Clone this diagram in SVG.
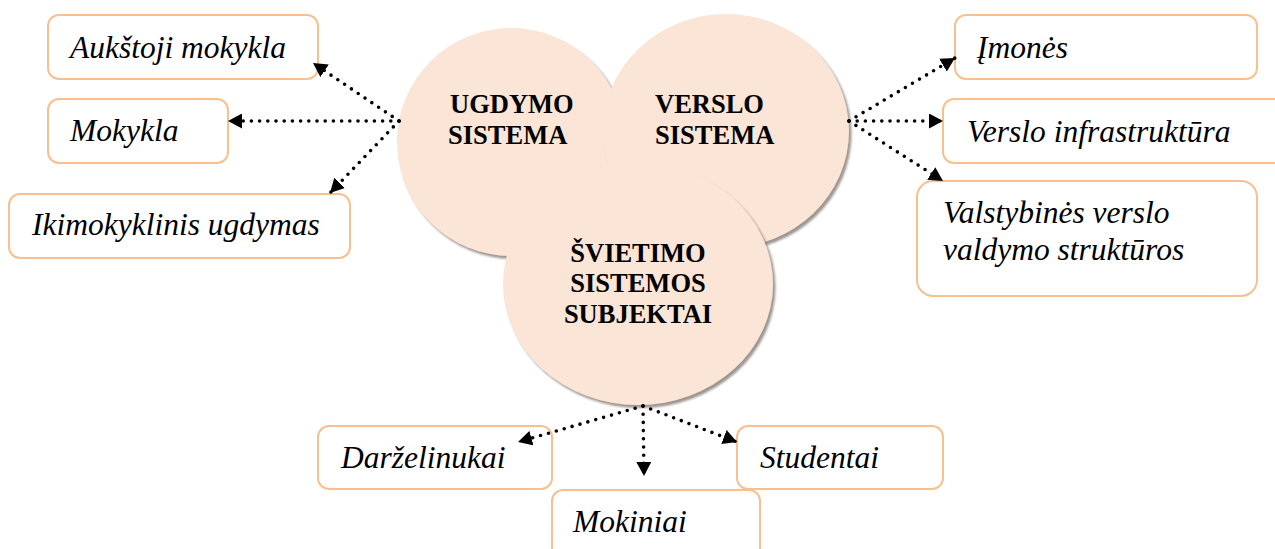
<svg xmlns="http://www.w3.org/2000/svg" width="1275" height="549" viewBox="0 0 1275 549">
<style>
.box{fill:#ffffff;stroke:#F8C08F;stroke-width:2}
.circ{fill:#FBE5D6}
.lbl{font-family:"Liberation Serif","Times New Roman",serif;font-style:italic;font-size:31.5px;fill:#000}
.ttl{font-family:"Liberation Serif","Times New Roman",serif;font-weight:bold;font-size:26.5px;fill:#000}
.conn{fill:none;stroke:#000;stroke-width:3.6;stroke-linecap:round;stroke-dasharray:0 8.2}
</style>
<defs>
<marker id="ah" viewBox="0 0 14 15" refX="14" refY="7.5" markerWidth="14" markerHeight="15" markerUnits="userSpaceOnUse" orient="auto">
<path d="M0,0 L14,7.5 L0,15 z" fill="#000"/>
</marker>
<filter id="sh" x="-10%" y="-10%" width="125%" height="125%">
<feDropShadow dx="2.5" dy="3" stdDeviation="1.2" flood-color="#7d726b" flood-opacity="0.75"/>
</filter>
</defs>

<g id="node-ugdymo">
<ellipse class="circ" cx="511" cy="142" rx="114" ry="114" filter="url(#sh)"/>
<text class="ttl" x="450" y="113">UGDYMO</text>
<text class="ttl" x="448" y="144">SISTEMA</text>
</g>
<g id="node-verslo">
<ellipse class="circ" cx="726" cy="131" rx="123" ry="117" filter="url(#sh)"/>
<text class="ttl" x="655" y="113">VERSLO</text>
<text class="ttl" x="655" y="144">SISTEMA</text>
</g>
<g id="node-svietimo">
<ellipse class="circ" cx="638" cy="284" rx="135" ry="121" filter="url(#sh)"/>
<text class="ttl" x="638" y="262" text-anchor="middle">ŠVIETIMO</text>
<text class="ttl" x="638" y="292" text-anchor="middle">SISTEMOS</text>
<text class="ttl" x="638" y="323" text-anchor="middle">SUBJEKTAI</text>
</g>

<g id="node-aukstoji">
<rect class="box" x="48" y="15" width="270" height="64" rx="11"/>
<text class="lbl" x="70" y="58">Aukštoji mokykla</text>
</g>
<g id="node-mokykla">
<rect class="box" x="48" y="99" width="180" height="64" rx="11"/>
<text class="lbl" x="70" y="141">Mokykla</text>
</g>
<g id="node-ikimokyklinis">
<rect class="box" x="9" y="194" width="341" height="64" rx="11"/>
<text class="lbl" x="32" y="235">Ikimokyklinis ugdymas</text>
</g>

<g id="node-imones">
<rect class="box" x="955" y="15" width="302" height="64" rx="11"/>
<text class="lbl" x="977" y="58">Įmonės</text>
</g>
<g id="node-infrastruktura">
<rect class="box" x="943" y="99" width="345" height="64" rx="11"/>
<text class="lbl" x="967" y="142">Verslo infrastruktūra</text>
</g>
<g id="node-valstybines">
<rect class="box" x="917" y="181" width="340" height="115" rx="16"/>
<text class="lbl" x="943" y="223">Valstybinės verslo</text>
<text class="lbl" x="943" y="260">valdymo struktūros</text>
</g>

<g id="node-darzelinukai">
<rect class="box" x="318" y="426" width="234" height="63" rx="11"/>
<text class="lbl" x="341" y="468">Darželinukai</text>
</g>
<g id="node-mokiniai">
<rect class="box" x="552" y="490" width="208" height="70" rx="11"/>
<text class="lbl" x="573" y="532">Mokiniai</text>
</g>
<g id="node-studentai">
<rect class="box" x="737" y="426" width="206" height="63" rx="11"/>
<text class="lbl" x="760" y="468">Studentai</text>
</g>

<g id="connectors">
<line class="conn" x1="399" y1="121" x2="313" y2="63" marker-end="url(#ah)"/>
<line class="conn" x1="399" y1="121" x2="228" y2="121" marker-end="url(#ah)"/>
<line class="conn" x1="399" y1="121" x2="330" y2="193" marker-end="url(#ah)"/>
<line class="conn" x1="849" y1="121" x2="955" y2="58" marker-end="url(#ah)"/>
<line class="conn" x1="849" y1="121" x2="943" y2="121" marker-end="url(#ah)"/>
<line class="conn" x1="849" y1="121" x2="943" y2="181" marker-end="url(#ah)"/>
<line class="conn" x1="643" y1="406" x2="518" y2="442" marker-end="url(#ah)"/>
<line class="conn" x1="643" y1="406" x2="644" y2="476" marker-end="url(#ah)"/>
<line class="conn" x1="643" y1="406" x2="737" y2="442" marker-end="url(#ah)"/>
</g>
</svg>
